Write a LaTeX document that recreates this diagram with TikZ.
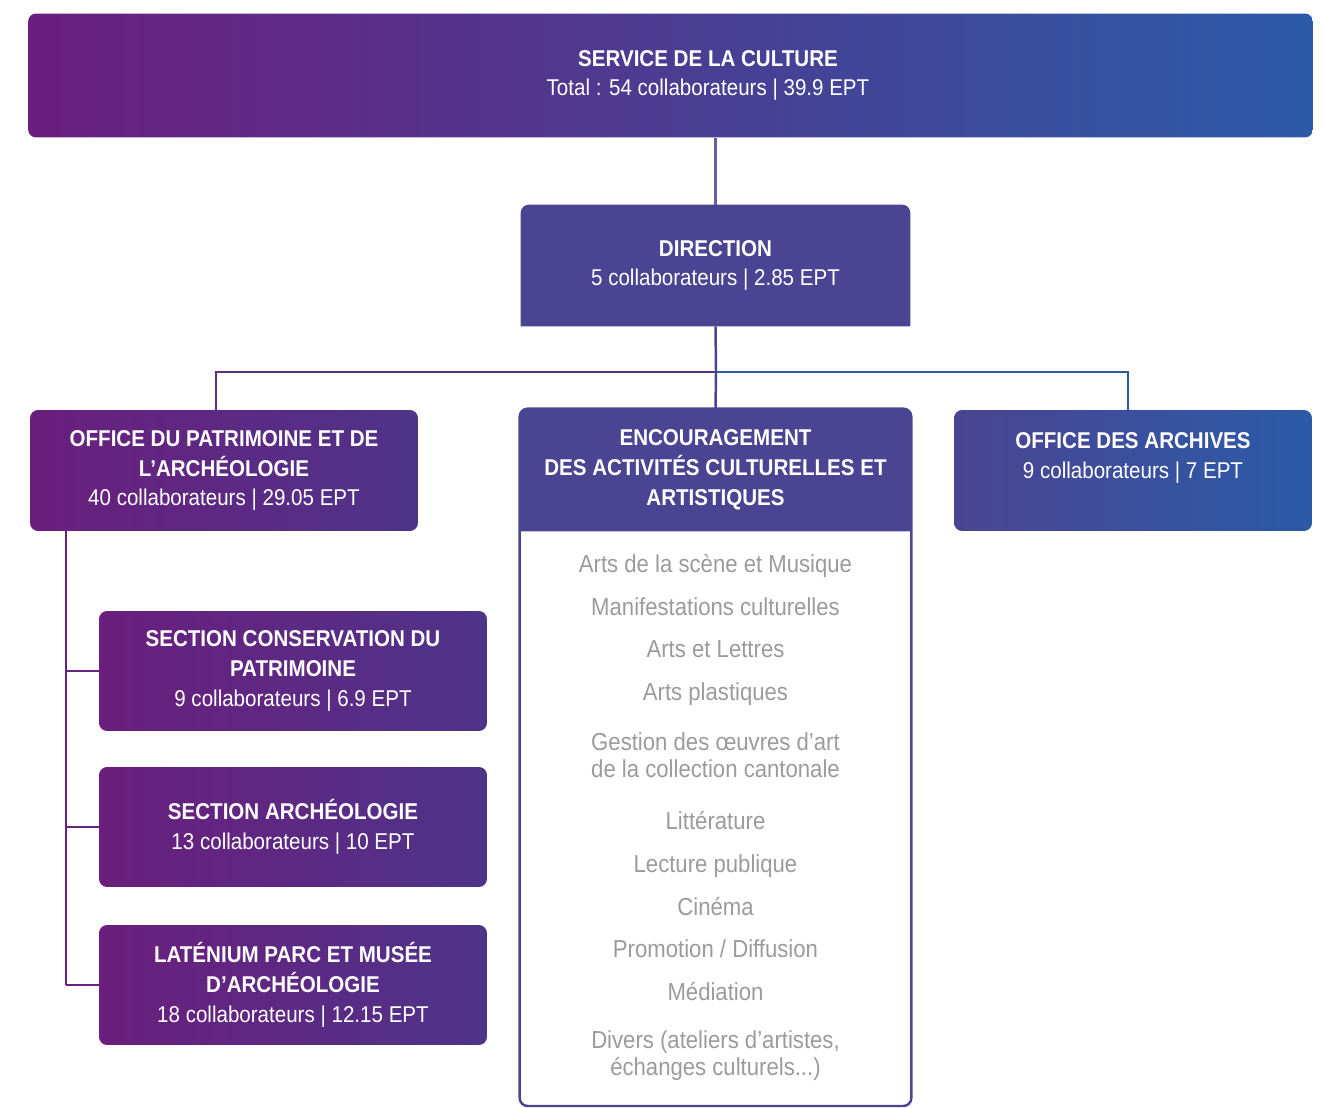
\documentclass[tikz,border=0pt]{standalone}
\usepackage{fontspec}
\setmainfont{Liberation Sans}[FakeStretch=0.9]
\usetikzlibrary{backgrounds}
\definecolor{cviolet}{HTML}{6B1E7D}
\definecolor{cplum}{HTML}{4E3489}
\definecolor{cindigo}{HTML}{4A4492}
\definecolor{cblue}{HTML}{2B5BA8}
\definecolor{cgrey}{HTML}{9B9B9B}

\tikzset{
  unit/.style={rounded corners=0.16cm, align=center, text=white, inner sep=0pt,
    minimum height=2.42cm, font=\fontsize{13}{17}\selectfont},
  office/.style={unit, left color=cviolet, right color=cplum, minimum width=7.76cm},
  link/.style={line width=1.4pt},
}

\begin{document}
\begin{tikzpicture}[x=0.02cm, y=-0.02cm]
\useasboundingbox (0,0) rectangle (1325,1108);

\node[unit, left color=cviolet, middle color=cindigo, right color=cblue, minimum width=25.7cm, minimum height=2.48cm] (culture) at (670.5,75.5) {\hspace*{1.5cm}\textbf{SERVICE DE LA CULTURE}\\\hspace*{1.5cm}Total : 54 collaborateurs | 39.9 EPT};

\node[unit, minimum width=7.78cm] (direction) at (715.5,265.5) {\textbf{DIRECTION}\\5 collaborateurs | 2.85 EPT};

\node[office] (patrimoine) at (224,470.5) {\textbf{OFFICE DU PATRIMOINE ET DE}\\\textbf{L’ARCHÉOLOGIE}\\40 collaborateurs | 29.05 EPT};
\node[unit, minimum width=7.82cm, minimum height=2.44cm] (encouragement) at (715.5,470) {\textbf{ENCOURAGEMENT}\\\textbf{DES ACTIVITÉS CULTURELLES ET}\\\textbf{ARTISTIQUES}};
\node[unit, left color=cindigo, right color=cblue, minimum width=7.16cm] (archives) at (1133,470.5) {\textbf{OFFICE DES ARCHIVES}\\9 collaborateurs | 7 EPT\\\mbox{}};

\node[office, minimum height=2.4cm] (conservation) at (293,671) {\textbf{SECTION CONSERVATION DU}\\\textbf{PATRIMOINE}\\9 collaborateurs | 6.9 EPT};
\node[office, minimum height=2.4cm] (archeo) at (293,827) {\textbf{SECTION ARCHÉOLOGIE}\\13 collaborateurs | 10 EPT};
\node[office, minimum height=2.4cm] (latenium) at (293,985) {\textbf{LATÉNIUM PARC ET MUSÉE}\\\textbf{D’ARCHÉOLOGIE}\\18 collaborateurs | 12.15 EPT};

% liste des activites
\coordinate (encend) at (911,1106);
\draw[cindigo, line width=1.4pt, rounded corners=0.16cm] (encouragement.north west) rectangle (encouragement.east |- encend);
\node[font=\fontsize{14}{15.3}\selectfont, text=cgrey, align=center, anchor=north] (activites) at (715.5,548) {Arts de la scène et Musique\\[9pt]
Manifestations culturelles\\[9pt]
Arts et Lettres\\[9pt]
Arts plastiques\\[13pt]
Gestion des œuvres d’art\\de la collection cantonale\\[14.7pt]
Littérature\\[9pt]
Lecture publique\\[9pt]
Cinéma\\[9pt]
Promotion / Diffusion\\[9pt]
Médiation\\[12pt]
Divers (ateliers d’artistes,\\échanges culturels...)};

\begin{scope}[on background layer]
\foreach \n in {direction,encouragement}
  \fill[cindigo] (\n.south west) [rounded corners=0.16cm] -- (\n.north west) -- (\n.north east) [sharp corners] -- (\n.south east) -- cycle;
\end{scope}

% liens
\coordinate (jm) at (716,372);
\coordinate (jl) at (216,372);
\coordinate (jr) at (1128,372);
\coordinate (trunk) at (66,531);

\draw[link, cindigo!85!white] (culture.south -| direction.north) -- (direction.north);
\draw[link, cindigo] (direction.south) -- (jm) -- (encouragement.north);
\draw[link, cviolet!60!cindigo] (jm) -- (jl) -- (jl |- patrimoine.north);
\draw[link, cblue!85!cindigo] (jm) -- (jr) -- (jr |- archives.north);
\draw[link, cviolet!85!cindigo] (patrimoine.south -| trunk) -- (trunk |- latenium.west);
\foreach \s in {conservation,archeo,latenium}
  \draw[link, cviolet!85!cindigo] (trunk |- \s.west) -- (\s.west);
\end{tikzpicture}
\end{document}
